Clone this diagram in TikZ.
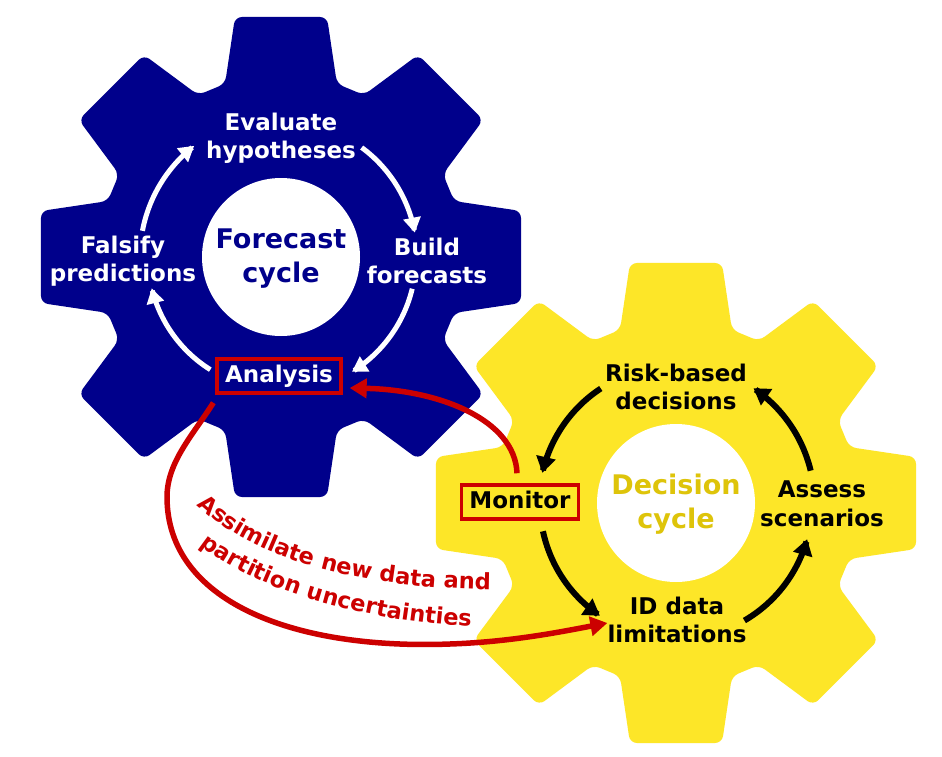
\documentclass[tikz,border=0pt]{standalone}
\usepackage{fontspec}
\setmainfont{DejaVu Sans}
\usetikzlibrary{arrows.meta,decorations.text,calc}
\definecolor{gblue}{RGB}{0,0,139}
\definecolor{gyellow}{RGB}{253,230,40}
\definecolor{ggold}{RGB}{222,196,10}
\definecolor{gred}{RGB}{204,0,0}
\newcommand\drawgear[2]{%
  \fill[#2, rounded corners=7pt] ([shift={(-22.5:181.4)}]#1)
  \foreach \a in {0,45,...,315}{
    -- ([shift={(\a-17.9:182)}]#1) -- ([shift={(\a-10.85:244.4)}]#1)
    -- ([shift={(\a+10.85:244.4)}]#1) -- ([shift={(\a+17.9:182)}]#1)}
  -- cycle;
  \fill[white] (#1) circle[radius=79];}
\begin{document}
\begin{tikzpicture}[x=1pt,y=-1pt,
  lab/.style={align=center, inner sep=2pt, font=\fontsize{23}{28.5}\selectfont\bfseries},
  wlabel/.style={lab, text=white},
  klabel/.style={lab, text=black},
  cyclabel/.style={align=center, inner sep=2pt, font=\fontsize{27}{34}\selectfont\bfseries},
  redbox/.style={draw=gred, line width=3.5pt, inner xsep=8pt, inner ysep=6pt,
    text height=17pt, text depth=5pt, font=\fontsize{23}{28.5}\selectfont\bfseries},
  warrow/.style={draw=white, line width=5pt, -{Triangle[length=15pt,width=17pt]}},
  karrow/.style={draw=black, line width=6pt, -{Triangle[length=16pt,width=19pt]}},
  rarrow/.style={draw=gred, line width=5.5pt, -{Triangle[length=17pt,width=19pt]}},
  curvtext/.style={decorate, decoration={text along path, text color=gred,
    text={|\fontsize{22.5}{27}\selectfont\bfseries|#1}}}
]
\useasboundingbox (0,0) rectangle (942,757);
\fill[white] (0,0) rectangle (942,757);
\coordinate (bc) at (281,257);
\coordinate (yc) at (676,503);
\drawgear{bc}{gblue}
\drawgear{yc}{gyellow}

% forecast cycle
\node[wlabel] (ev) at (281,138) {Evaluate\\hypotheses};
\node[wlabel] (fa) at (123,261) {Falsify\\predictions};
\node[wlabel] (bu) at (427,261) {Build\\forecasts};
\node[cyclabel, text=gblue] (fc) at (281,259) {Forecast\\cycle};
\node[redbox, fill=gblue, text=white] (an) at (279,376) {Analysis};

\draw[warrow] plot[domain=-169.3:-128, samples=40] ({281+141*cos(\x)},{257+141*sin(\x)});
\draw[warrow] plot[domain=-53.6:-10.3, samples=40] ({281+136*cos(\x)},{257+136*sin(\x)});
\draw[warrow] plot[domain=13.6:58.3, samples=40] ({281+135*cos(\x)},{257+135*sin(\x)});
\draw[warrow] plot[domain=122.1:166.4, samples=40] ({281+133*cos(\x)},{257+133*sin(\x)});

% decision cycle
\node[klabel] (rb) at (676,387) {Risk-based\\decisions};
\node[klabel] (as) at (822,504) {Assess\\scenarios};
\node[klabel] (id) at (677,620) {ID data\\limitations};
\node[redbox, fill=gyellow, text=black] (mo) at (520,502) {Monitor};
\node[cyclabel, text=ggold] (dc) at (676,504) {Decision\\cycle};

\draw[karrow] plot[domain=-123.3:-167.3, samples=40] ({676+137*cos(\x)},{503+137*sin(\x)});
\draw[karrow] plot[domain=-192:-236, samples=40] ({676+136*cos(\x)},{503+136*sin(\x)});
\draw[karrow] plot[domain=59.8:15.4, samples=40] ({676+136*cos(\x)},{503+136*sin(\x)});
\draw[karrow] plot[domain=-13.5:-56, samples=40] ({676+138.5*cos(\x)},{503+138.5*sin(\x)});

% red connectors
\coordinate (r1s) at ($(an.south west)+(-2,8)$);
\coordinate (r1e) at ($(id.west)+(2,3)$);
\draw[rarrow] (r1s) .. controls (193,435) and (167,462) .. (167,497)
  .. controls (167,600) and (290,650) .. (450,644)
  .. controls (510,642) and (560,632) .. (r1e);
\coordinate (r2s) at ($(mo.north)+(-3,-10)$);
\coordinate (r2e) at ($(an.east)+(7,12)$);
\draw[rarrow] (r2s) .. controls (515,420) and (440,390) .. (r2e);

\path[curvtext={Assimilate new data and}] (197,505) .. controls (255,560) and (370,598) .. (560,588);
\path[curvtext={partition uncertainties}] (200,545) .. controls (250,585) and (360,628) .. (520,628);
\end{tikzpicture}
\end{document}
